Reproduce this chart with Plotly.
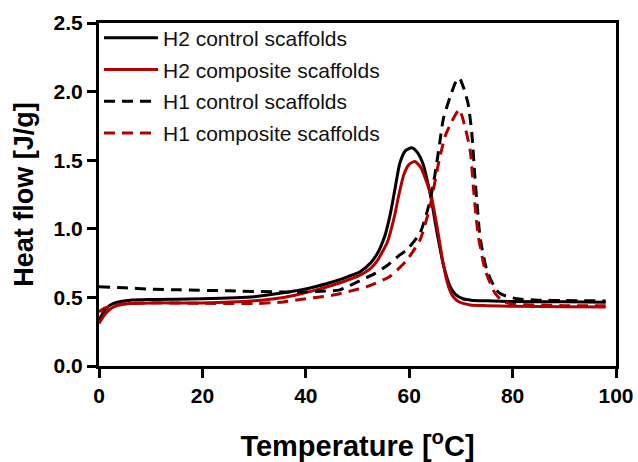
import plotly.graph_objects as go

# H2 control scaffolds (black solid)
t_h2_ctrl = [0, 1, 2, 3.5, 6, 10, 20, 30, 35, 39, 42, 45.3, 48, 50.5, 52.5, 53.7, 55.3, 56.3, 57.2, 58.2, 59.3,
             60.5, 61.6, 62.7, 63.5, 64.2, 65.3, 66.6, 67.9, 69, 70.4, 72, 75, 80, 90, 98]
h_h2_ctrl = [0.335, 0.40, 0.44, 0.465, 0.48, 0.485, 0.49, 0.505, 0.53, 0.555, 0.58, 0.614, 0.65, 0.687, 0.75, 0.81,
             0.95, 1.10, 1.28, 1.48, 1.57, 1.59, 1.555, 1.47, 1.35, 1.23, 0.99, 0.74, 0.58, 0.52, 0.49, 0.48, 0.475,
             0.47, 0.468, 0.465]

# H2 composite scaffolds (red solid)
t_h2_comp = [0, 1, 2, 3.5, 6, 10, 20, 30, 35, 38.9, 42, 45.3, 48, 50.5, 52.5, 53.7, 55.8, 57.2, 57.9, 59, 60,
             61.1, 62.2, 63.2, 64.3, 65.5, 66.6, 67.6, 68.5, 69.5, 71.8, 75, 80, 90, 98]
h_h2_comp = [0.31, 0.37, 0.41, 0.44, 0.455, 0.46, 0.46, 0.475, 0.495, 0.525, 0.555, 0.59, 0.625, 0.663, 0.71, 0.76,
             0.906, 1.10, 1.23, 1.40, 1.47, 1.49, 1.45, 1.36, 1.23, 0.99, 0.74, 0.58, 0.505, 0.47, 0.445, 0.44,
             0.435, 0.432, 0.43]

# H1 control scaffolds (black dashed)
t_h1_ctrl = [0, 5, 10, 15.7, 25, 35, 40, 43, 46.6, 49.8, 53.4, 56, 58.2, 59.5, 62.1, 64.0, 65.0, 65.8, 66.6, 67.9,
             69.0, 69.7, 70.5, 71.4, 72.1, 72.7, 73.2, 73.7, 75.0, 76.9, 78, 80.8, 85, 90, 98]
h_h1_ctrl = [0.578, 0.57, 0.56, 0.555, 0.548, 0.54, 0.54, 0.545, 0.555, 0.61, 0.675, 0.74, 0.81, 0.845, 0.97, 1.20,
             1.40, 1.60, 1.80, 1.96, 2.07, 2.10, 2.03, 1.91, 1.70, 1.38, 1.15, 0.94, 0.70, 0.55, 0.52, 0.49,
             0.48, 0.477, 0.474]

# H1 composite scaffolds (red dashed)
t_h1_comp = [0, 1, 2.5, 5, 10, 20, 30, 35, 38.9, 42, 45.3, 48.5, 51.8, 56.2, 59.5, 62.1, 64.0, 65.8, 67.0, 68.2,
             69.7, 70.8, 71.8, 72.4, 72.9, 73.4, 74.7, 76.6, 78.2, 80, 85, 90, 98]
h_h1_comp = [0.395, 0.42, 0.44, 0.455, 0.46, 0.457, 0.455, 0.465, 0.485, 0.50, 0.517, 0.545, 0.578, 0.651, 0.77,
             0.92, 1.16, 1.50, 1.68, 1.78, 1.87, 1.74, 1.57, 1.31, 1.10, 0.94, 0.70, 0.53, 0.47, 0.45, 0.445,
             0.44, 0.44]

series = [
    ("H2 control scaffolds", t_h2_ctrl, h_h2_ctrl, "#000000", "solid"),
    ("H2 composite scaffolds", t_h2_comp, h_h2_comp, "#b00000", "solid"),
    ("H1 control scaffolds", t_h1_ctrl, h_h1_ctrl, "#000000", "11px,7px"),
    ("H1 composite scaffolds", t_h1_comp, h_h1_comp, "#b00000", "11px,7px"),
]

x_ticks = [0, 20, 40, 60, 80, 100]
y_ticks = [0.0, 0.5, 1.0, 1.5, 2.0, 2.5]
y_tick_text = ["0.0", "0.5", "1.0", "1.5", "2.0", "2.5"]

FONT = "Liberation Sans, Arial, sans-serif"

fig = go.Figure()
for i, (name, t, h, col, dash) in enumerate(series):
    fig.add_trace(go.Scatter(
        x=t, y=h, mode="lines", name=name,
        line=dict(color=col, width=3, dash=dash, shape="spline", smoothing=0.6),
        legendgroup=str(i),
    ))

fig.update_layout(
    width=638, height=462,
    margin=dict(l=99, r=22, t=23, b=96),
    plot_bgcolor="white", paper_bgcolor="white",
    font=dict(family=FONT, color="black"),
    showlegend=True,
    legend=dict(
        x=0.0, y=1.016, xanchor="left", yanchor="top",
        bgcolor="rgba(0,0,0,0)", borderwidth=0,
        font=dict(family=FONT, size=21, color="#111"),
        tracegroupgap=1.5, itemwidth=54,
    ),
)

fig.update_xaxes(
    range=[0, 100], tickvals=x_ticks, ticktext=[str(v) for v in x_ticks],
    showgrid=False, zeroline=False, automargin=False,
    showline=True, linecolor="black", linewidth=3, mirror=True,
    ticks="outside", ticklen=9, tickwidth=3, tickcolor="black",
    tickfont=dict(family=FONT, size=21, weight="bold"),
    title=dict(text="Temperature [<sup>o</sup>C]", font=dict(family=FONT, size=29, weight="bold"), standoff=34),
)
fig.update_yaxes(
    range=[0, 2.5], tickvals=y_ticks, ticktext=y_tick_text,
    showgrid=False, zeroline=False, automargin=False,
    showline=True, linecolor="black", linewidth=3, mirror=True,
    ticks="outside", ticklen=9, tickwidth=3, tickcolor="black",
    tickfont=dict(family=FONT, size=21, weight="bold"),
    title=dict(text="Heat flow [J/g]", font=dict(family=FONT, size=27, weight="bold"), standoff=13),
)

fig.write_html("out.html")
